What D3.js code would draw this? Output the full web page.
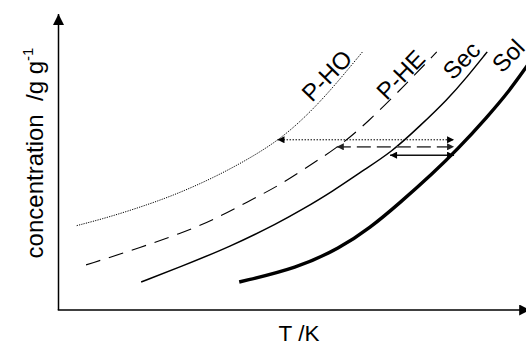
<!DOCTYPE html>
<html>
<head>
<meta charset="utf-8">
<script src="https://cdn.jsdelivr.net/npm/d3@7/dist/d3.min.js"></script>
<style>
  html, body { margin: 0; padding: 0; background: #fff; }
  svg { display: block; font-family: Arial, "Liberation Sans", sans-serif; }
</style>
</head>
<body>
<div id="chart"></div>
<script>
// schematic curves, T in arbitrary units (0-100), concentration in arbitrary units (0-100)
var phoT = [3.9, 10.9, 19.5, 25.9, 33.0, 40.3, 46.9, 52.2, 58.0, 65.1];
var phoC = [28.6, 31.5, 35.9, 39.7, 44.7, 50.8, 57.3, 64.4, 73.9, 87.5];
var pheT = [5.9, 15.9, 26.4, 33.1, 40.4, 47.5, 54.5, 59.6, 66.1, 74.6, 81.0];
var pheC = [15.3, 20.3, 26.1, 30.5, 36.6, 42.4, 49.8, 54.9, 63.4, 76.9, 87.5];
var secT = [17.7, 26.0, 36.7, 47.4, 51.7, 58.8, 65.0, 71.4, 77.4, 83.2, 87.5, 91.8];
var secC = [9.5, 14.6, 21.4, 29.8, 33.6, 40.3, 47.1, 53.6, 62.4, 71.2, 79.0, 87.5];
var solT = [38.7, 51.1, 60.3, 66.7, 73.1, 80.2, 85.3, 91.8, 96.7, 100.3, 103.1];
var solC = [9.5, 14.2, 21.0, 27.8, 36.3, 46.4, 54.2, 65.4, 74.6, 82.7, 88.8];

var curveNames = ["P-HO", "P-HE", "Sec", "Sol"];
// double arrows: level, left end, right end
var arrowC = [57.7, 55.3, 52.5];
var arrowFrom = [46.9, 59.6, 71.0];
var arrowTo = [84.7, 84.7, 84.7];

var width = 526, height = 345;
var svg = d3.select("#chart").append("svg")
    .attr("width", width)
    .attr("height", height);

var x = d3.scaleLinear().domain([0, 100]).range([58.5, 525.5]);
var y = d3.scaleLinear().domain([0, 100]).range([310, 15]);

var defs = svg.append("defs");
function marker(id, w, h, color) {
    defs.append("marker")
        .attr("id", id)
        .attr("viewBox", "0 0 10 10")
        .attr("refX", 10).attr("refY", 5)
        .attr("markerUnits", "userSpaceOnUse")
        .attr("markerWidth", w).attr("markerHeight", h)
        .attr("orient", "auto-start-reverse")
        .append("path")
        .attr("d", "M0,0L10,5L0,10Z")
        .attr("fill", color);
}
marker("axisHead", 13, 11, "#000");
marker("head", 10, 7, "#000");
marker("headGrey", 10, 7, "#222");

// axes (no ticks, arrow ends)
svg.append("line")
    .attr("x1", x(0)).attr("y1", y(0))
    .attr("x2", x(0)).attr("y2", y(100) - 1)
    .attr("stroke", "#000").attr("stroke-width", 1.5)
    .attr("marker-end", "url(#axisHead)");
svg.append("line")
    .attr("x1", x(0) - 0.75).attr("y1", y(0))
    .attr("x2", x(101)).attr("y2", y(0))
    .attr("stroke", "#000").attr("stroke-width", 1.5)
    .attr("marker-end", "url(#axisHead)");

var line = d3.line()
    .x(function (d) { return x(d[0]); })
    .y(function (d) { return y(d[1]); })
    .curve(d3.curveBasis);

var series = [
    { t: phoT, c: phoC, w: 1, dash: "1.2,1.2" },
    { t: pheT, c: pheC, w: 1.1, dash: "15,9" },
    { t: secT, c: secC, w: 1.5, dash: null },
    { t: solT, c: solC, w: 3.4, dash: null }
];
series.forEach(function (s) {
    svg.append("path")
        .datum(d3.zip(s.t, s.c))
        .attr("d", line)
        .attr("fill", "none")
        .attr("stroke", "#000")
        .attr("stroke-width", s.w)
        .attr("stroke-dasharray", s.dash);
});

// double-headed arrows
var arrowStyle = [
    { dash: "1.5,1.5", w: 1, color: "#000", m: "head" },
    { dash: "14,6", w: 1.8, color: "#555", m: "headGrey" },
    { dash: null, w: 1.5, color: "#111", m: "head" }
];
arrowC.forEach(function (c, i) {
    svg.append("line")
        .attr("x1", x(arrowFrom[i])).attr("y1", y(c))
        .attr("x2", x(arrowTo[i])).attr("y2", y(c))
        .attr("stroke", arrowStyle[i].color)
        .attr("stroke-width", arrowStyle[i].w)
        .attr("stroke-dasharray", arrowStyle[i].dash)
        .attr("marker-start", "url(#" + arrowStyle[i].m + ")")
        .attr("marker-end", "url(#" + arrowStyle[i].m + ")");
});

// curve labels, slanted along the curve ends
var labelPos = [[54.3, 70.2], [70.3, 70.8], [84.5, 77.6], [95.0, 80.0]];
curveNames.forEach(function (n, i) {
    var px = x(labelPos[i][0]), py = y(labelPos[i][1]);
    svg.append("text")
        .attr("transform", "translate(" + px + "," + py + ") rotate(-46)")
        .attr("font-size", 24)
        .text(n);
});

// axis titles
svg.append("text")
    .attr("x", 299).attr("y", 340.5)
    .attr("text-anchor", "middle")
    .attr("font-size", 22.5)
    .text("T /K");

var yt = svg.append("text")
    .attr("transform", "translate(43,153) rotate(-90)")
    .attr("text-anchor", "middle")
    .attr("font-size", 24);
yt.append("tspan").text("concentration\u00a0 /g g");
yt.append("tspan").attr("font-size", 15).attr("dy", -10).text("-1");
</script>
</body>
</html>
